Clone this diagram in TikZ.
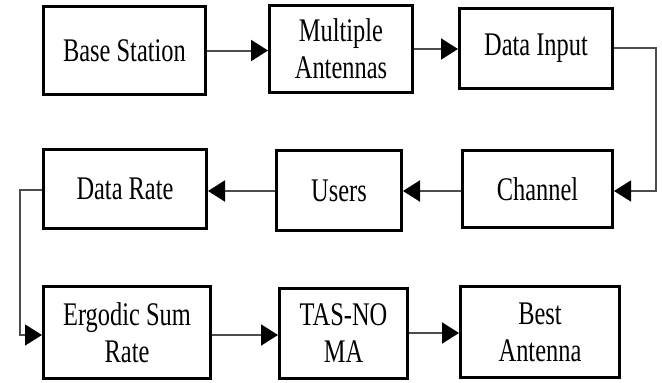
\documentclass[tikz,border=0pt]{standalone}
\usepackage{fontspec}
\setmainfont{Liberation Serif}[FakeStretch=0.74]
\usetikzlibrary{arrows.meta,calc}
\begin{document}
\begin{tikzpicture}[x=1pt,y=-1pt,
  box/.style={draw=black,line width=3pt,fill=white,align=center,inner sep=0pt,
    font=\fontsize{33}{37}\selectfont},
  tip/.style={-{Triangle[length=17pt,width=21pt,color=black]}},
  flow/.style={draw=black!70,line width=2pt,tip},
  link/.style={draw=black!70,line width=1.3pt,tip}]
\useasboundingbox (0,0) rectangle (662,383);
% top row
\node[box,minimum width=162pt,minimum height=88pt] (bs) at (124.5,50.5) {Base Station};
\node[box,minimum width=143pt,minimum height=87pt] (ma) at (341,49) {Multiple\\Antennas};
\node[box,minimum width=153pt,minimum height=80pt] (di) at (536,48.5) {Data Input};
% middle row
\node[box,minimum width=163pt,minimum height=79pt] (dr) at (125,189) {Data Rate};
\node[box,minimum width=125pt,minimum height=80pt] (us) at (339,190.5) {Users};
\node[box,minimum width=150pt,minimum height=77pt] (ch) at (537.5,189) {Channel};
% bottom row
\node[box,minimum width=167pt,minimum height=92pt] (es) at (127,332.5) {Ergodic Sum\\Rate};
\node[box,minimum width=128pt,minimum height=90pt] (tn) at (343.5,333.5) {TAS-NO\\MA};
\node[box,minimum width=159pt,minimum height=91pt] (ba) at (540,332) {Best\\Antenna};
% connectors
\draw[flow] (bs.east) -- (bs.east -| ma.west);
\draw[flow] (ma.east) -- (ma.east -| di.west);
\coordinate (r1) at (656,48);
\coordinate (r2) at (656,191);
\draw[link] (di.east |- r1) -- (r1) -- (r2) -- (r2 -| ch.east);
\draw[flow] (ch.west |- 0,191) -- (us.east |- 0,191);
\draw[flow] (us.west |- 0,191) -- (dr.east |- 0,191);
\coordinate (l1) at (20,190);
\coordinate (l2) at (20,335);
\draw[link] (dr.west |- l1) -- (l1) -- (l2) -- (l2 -| es.west);
\draw[flow] (es.east |- 0,335) -- (tn.west |- 0,335);
\draw[flow] (tn.east |- 0,333) -- (ba.west |- 0,333);
\end{tikzpicture}
\end{document}
